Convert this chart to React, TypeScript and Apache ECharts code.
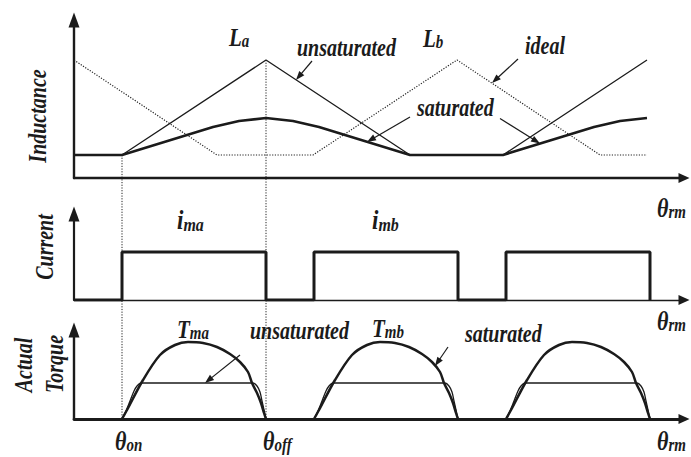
import React, { useEffect, useRef } from "react";
import * as echarts from "echarts";

// ---- rotor angle axis (arbitrary angle units) ----
const THETA_SPAN = 610;
const THETA_ON = 48;
const THETA_OFF = 192;

// ---- phase inductance ----
const L_MIN = 23;
const L_MAX = 118;
const laUnsatTheta = [0, 48, 192, 336, 429, 573];
const laUnsatL = [23, 23, 118, 23, 23, 118];
const laSatTheta = [0, 48, 139, 165, 192, 219, 245, 336, 429, 520, 546, 573];
const laSatL = [23, 23, 51, 57, 60, 57, 51, 23, 23, 51, 57, 60];
const lbIdealTheta = [0, 143, 239, 383, 526, 573];
const lbIdealL = [118, 23, 23, 118, 23, 23];

// ---- phase currents (square pulses) ----
const currentTheta = [0, 48, 48, 192, 192, 240, 240, 384, 384, 432, 432, 576, 576];
const currentI = [0, 0, 48, 48, 0, 0, 48, 48, 0, 0, 48, 48, 0];

// ---- actual torque, one pulse per conduction interval ----
const torqueSatTheta = [
  [48, 53, 69, 86, 101, 114, 129, 143, 156, 166, 174, 178, 183, 187, 190, 192],
  [240, 245, 261, 278, 293, 306, 321, 335, 348, 358, 366, 370, 375, 379, 382, 384],
  [432, 437, 453, 470, 485, 498, 513, 527, 540, 550, 558, 562, 567, 571, 574, 576],
];
const torqueSatT = [
  [0, 9, 39, 64, 74, 77, 76, 72, 65, 57, 47, 36, 26, 16, 6, 0],
  [0, 9, 39, 64, 74, 77, 76, 72, 65, 57, 47, 36, 26, 16, 6, 0],
  [0, 9, 39, 64, 74, 77, 76, 72, 65, 57, 47, 36, 26, 16, 6, 0],
];
const torqueUnsatTheta = [
  [48, 52, 56, 60, 63, 67, 179, 183, 186, 188, 190, 192],
  [240, 244, 248, 252, 255, 259, 371, 375, 378, 380, 382, 384],
  [432, 436, 440, 444, 447, 451, 563, 567, 570, 572, 574, 576],
];
const torqueUnsatT = [
  [0, 8, 18, 28, 33, 36, 36, 33, 27, 18, 9, 0],
  [0, 8, 18, 28, 33, 36, 36, 33, 27, 18, 9, 0],
  [0, 8, 18, 28, 33, 36, 36, 33, 27, 18, 9, 0],
];

const FONT = '"Liberation Serif", "Times New Roman", Times, serif';
const INK = "#1b1b1b";
const TEXT_STRETCH = 1.22;

const zip = (xs: number[], ys: number[]) => xs.map((x, i) => [x, ys[i]]);

// panel layout
const PANELS = [
  { top: 20, height: 158, max: 158, lw: 2.4 },
  { top: 214, height: 86, max: 86, lw: 1.3 },
  { top: 330, height: 89, max: 89, lw: 2.8 },
];

function buildOption() {
  const grid = PANELS.map((p) => ({
    left: 74,
    top: p.top,
    width: THETA_SPAN,
    height: p.height,
    outerBoundsMode: "none",
  }));
  const xAxis = PANELS.map((p, i) => ({
    type: "value",
    gridIndex: i,
    min: 0,
    max: THETA_SPAN,
    axisLine: {
      show: true,
      onZero: false,
      symbol: ["none", "triangle"],
      symbolSize: [10, 11],
      lineStyle: { color: INK, width: p.lw },
    },
    axisTick: { show: false },
    axisLabel: { show: false },
    splitLine: { show: false },
  }));
  const yAxis = PANELS.map((p, i) => ({
    type: "value",
    gridIndex: i,
    min: 0,
    max: p.max,
    axisLine: {
      show: true,
      onZero: false,
      symbol: ["none", "triangle"],
      symbolSize: [11, 15],
      lineStyle: { color: INK, width: i === 1 ? 2.2 : 2.4 },
    },
    axisTick: { show: false },
    axisLabel: { show: false },
    splitLine: { show: false },
  }));

  const line = (gi: number, data: number[][], lineStyle: any, smooth: number | boolean = false) => ({
    type: "line",
    xAxisIndex: gi,
    yAxisIndex: gi,
    data,
    showSymbol: false,
    symbol: "none",
    smooth,
    lineStyle: { color: INK, ...lineStyle },
    silent: true,
  });

  const series: any[] = [
    line(0, zip(lbIdealTheta, lbIdealL), { width: 1.2, type: [1.2, 1.5], color: "#222" }),
    line(0, zip(laUnsatTheta, laUnsatL), { width: 1.3 }),
    line(0, zip(laSatTheta, laSatL), { width: 2.6 }),
    line(1, zip(currentTheta, currentI), { width: 3 }),
  ];
  torqueUnsatTheta.forEach((xs, k) => series.push(line(2, zip(xs, torqueUnsatT[k]), { width: 1.3 }, 0.3)));
  torqueSatTheta.forEach((xs, k) => series.push(line(2, zip(xs, torqueSatT[k]), { width: 2.5 }, 0.3)));

  return {
    animation: false,
    backgroundColor: "#ffffff",
    grid,
    xAxis,
    yAxis,
    series,
  };
}

const textBase = {
  fontFamily: FONT,
  fontWeight: "bold",
  fontStyle: "italic",
  fill: INK,
};

function label(text: string, x: number, y: number, size = 20) {
  return {
    type: "text",
    x,
    y,
    scaleY: TEXT_STRETCH,
    silent: true,
    style: {
      ...textBase,
      text,
      fontSize: size,
      align: "left",
      textAlign: "left",
      verticalAlign: "middle",
      textVerticalAlign: "middle",
    },
  };
}

function vlabel(text: string, x: number, y: number, size = 20) {
  return {
    type: "text",
    x,
    y,
    rotation: Math.PI / 2,
    scaleY: TEXT_STRETCH,
    silent: true,
    style: {
      ...textBase,
      text,
      fontSize: size,
      align: "center",
      textAlign: "center",
      verticalAlign: "middle",
      textVerticalAlign: "middle",
    },
  };
}

function subLabel(main: string, sub: string, x: number, y: number, mainSize = 21, subSize = 15) {
  return {
    type: "text",
    x,
    y,
    scaleY: TEXT_STRETCH,
    silent: true,
    style: {
      text: `{m|${main}}{s|${sub}}`,
      align: "left",
      textAlign: "left",
      verticalAlign: "middle",
      textVerticalAlign: "middle",
      rich: {
        m: { ...textBase, fontSize: mainSize, lineHeight: 18, verticalAlign: "bottom" },
        s: { ...textBase, fontSize: subSize, lineHeight: 6, verticalAlign: "bottom" },
      },
    },
  };
}

function pointer(head: number[], tail: number[]) {
  const dx = head[0] - tail[0];
  const dy = head[1] - tail[1];
  const len = Math.hypot(dx, dy);
  const ux = dx / len;
  const uy = dy / len;
  const L = 9;
  const W = 3.3;
  const bx = head[0] - ux * L;
  const by = head[1] - uy * L;
  return [
    {
      type: "line",
      silent: true,
      shape: { x1: tail[0], y1: tail[1], x2: bx + ux * 2, y2: by + uy * 2 },
      style: { stroke: INK, lineWidth: 1.2 },
    },
    {
      type: "polygon",
      silent: true,
      shape: {
        points: [
          [head[0], head[1]],
          [bx - uy * W, by + ux * W],
          [bx + uy * W, by - ux * W],
        ],
      },
      style: { fill: INK },
    },
  ];
}

function buildGraphic(chart: echarts.ECharts) {
  const px = (gi: number, x: number, y: number) => chart.convertToPixel({ gridIndex: gi }, [x, y]) as number[];

  // turn-on / turn-off guides running through all three panels
  const guides = [
    [px(0, THETA_ON, L_MIN), px(2, THETA_ON, 0)],
    [px(0, THETA_OFF, L_MAX), px(2, THETA_OFF, 0)],
  ].map(([a, b]) => ({
    type: "line",
    silent: true,
    shape: { x1: a[0], y1: a[1], x2: b[0], y2: b[1] },
    style: { stroke: "#222", lineWidth: 1, lineDash: [1.2, 1.5] },
  }));

  const tail = (p: number[], dx: number, dy: number) => [p[0] + dx, p[1] + dy];
  const aUnsat = px(0, 222, 98);
  const aIdeal = px(0, 418, 95);
  const aSatL = px(0, 293, 36);
  const aSatR = px(0, 466, 34.5);
  const aTqUnsat = px(2, 131, 36);
  const aTqSat = px(2, 361, 53);

  const pointers = [
    ...pointer(aUnsat, tail(aUnsat, 16, -19)),
    ...pointer(aIdeal, tail(aIdeal, 26, -24)),
    ...pointer(aSatL, tail(aSatL, 43, -25)),
    ...pointer(aSatR, tail(aSatR, -40, -25)),
    ...pointer(aTqUnsat, tail(aTqUnsat, 35, -28)),
    ...pointer(aTqSat, tail(aTqSat, 13, -19)),
  ];

  const texts = [
    vlabel("Inductance", 38, 116),
    vlabel("Current", 45, 247),
    vlabel("Actual", 24, 365),
    vlabel("Torque", 55, 364),
    subLabel("L", "a", 229, 39),
    label("unsaturated", 297, 48),
    subLabel("L", "b", 423, 40),
    label("ideal", 525, 46),
    label("saturated", 417, 108),
    subLabel("i", "ma", 177, 223, 23, 16),
    subLabel("i", "mb", 372, 223, 23, 16),
    subLabel("T", "ma", 177, 331),
    label("unsaturated", 250, 331),
    subLabel("T", "mb", 372, 330),
    label("saturated", 465, 334),
    subLabel("θ", "on", 115, 443, 22, 15),
    subLabel("θ", "off", 263, 443, 22, 15),
    subLabel("θ", "rm", 657, 210, 22, 15),
    subLabel("θ", "rm", 657, 323, 22, 15),
    subLabel("θ", "rm", 657, 443, 22, 15),
  ];

  return [...guides, ...pointers, ...texts];
}

export default function App() {
  const ref = useRef<HTMLDivElement>(null);
  useEffect(() => {
    if (!ref.current) return;
    const chart = echarts.init(ref.current, null, { renderer: "svg" });
    chart.setOption(buildOption() as any);
    chart.setOption({ graphic: buildGraphic(chart) } as any);
    return () => chart.dispose();
  }, []);
  return (
    <div
      ref={ref}
      style={{ position: "fixed", left: 0, top: 0, width: 691, height: 457, background: "#fff" }}
    />
  );
}
